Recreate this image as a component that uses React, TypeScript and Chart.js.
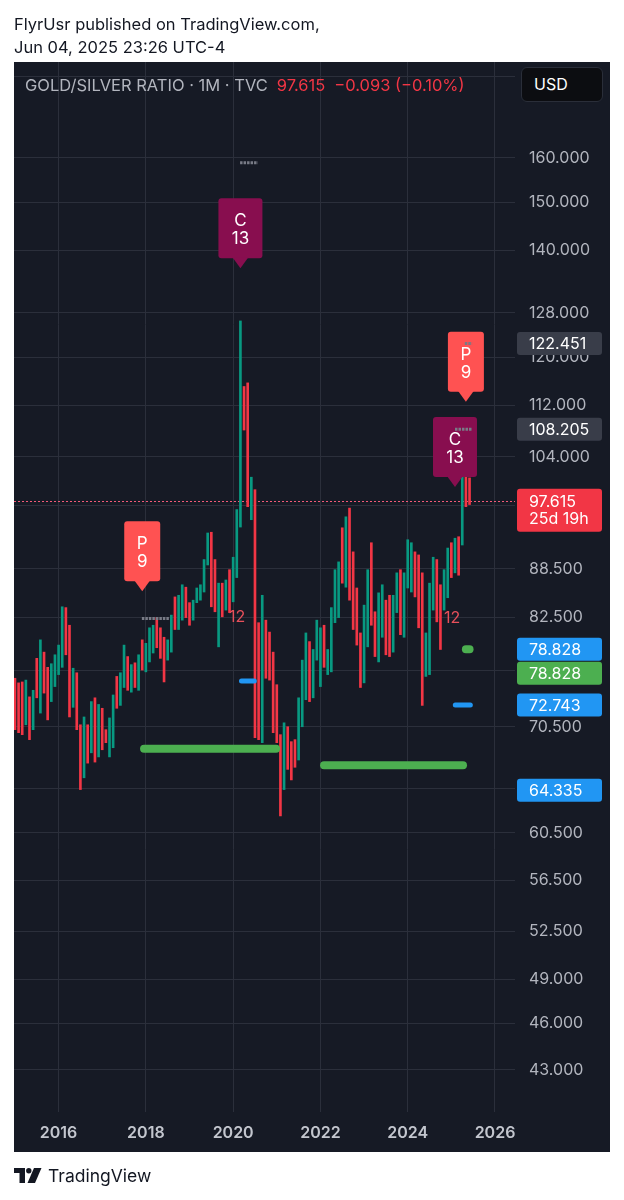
import React, { useEffect, useRef } from 'react';
import { Chart, registerables } from 'chart.js';

Chart.register(...registerables);

// One bar per month, first bar = Jan 2015
const FIRST_YEAR = 2015;
const YEAR_LABELS = [2016, 2018, 2020, 2022, 2024, 2026];
const PRICE_TICKS = [180, 160, 150, 140, 128, 120, 112, 104, 97, 88.5, 82.5, 76.5, 70.5, 64.5, 60.5, 56.5, 52.5, 49, 46, 43];

const HIGHS = [
  75.6, 75.1, 75.2, 75.4, 73.6, 74.3, 77.8, 79.9, 78.5, 76.8, 77.2, 78.2,
  79.3, 83.8, 83.7, 81.6, 76.7, 76.2, 70.7, 71.5, 70.7, 73.1, 73.5, 72.8,
  72.4, 70.2, 71.4, 73.8, 75.8, 76.2, 79.3, 78.0, 77.1, 77.3, 78.2, 79.9,
  79.5, 81.3, 81.6, 82.5, 81.3, 80.2, 79.9, 82.8, 85.0, 85.2, 86.5, 86.2,
  84.3, 84.6, 86.1, 86.5, 89.7, 93.2, 93.3, 89.7, 86.7, 86.7, 87.1, 88.4,
  90.0, 96.4, 126.5, 115.1, 115.7, 101.0, 99.2, 81.9, 85.2, 82.2, 80.8, 78.5,
  74.9, 69.7, 70.9, 70.5, 69.0, 69.2, 73.5, 77.6, 80.7, 79.7, 78.8, 82.2,
  81.3, 81.6, 78.8, 83.7, 88.4, 89.4, 93.9, 95.4, 96.6, 90.7, 86.1, 80.7,
  84.0, 88.4, 91.9, 83.2, 85.5, 86.5, 84.6, 85.2, 85.2, 88.0, 88.4, 88.0,
  92.3, 91.9, 90.7, 90.3, 88.0, 80.7, 86.7, 90.0, 89.7, 86.5, 88.4, 91.2,
  91.9, 92.5, 92.7, 107.0, 104.3, 100.9,
];

const LOWS = [
  70.2, 69.9, 69.7, 70.7, 69.2, 70.2, 73.5, 71.9, 74.0, 71.2, 73.1, 74.7,
  76.0, 76.8, 78.2, 71.5, 72.5, 70.2, 64.4, 65.5, 66.9, 67.9, 67.0, 67.5,
  68.2, 68.9, 67.5, 68.4, 72.4, 72.7, 74.6, 74.3, 74.1, 74.6, 74.3, 76.5,
  76.3, 77.4, 78.4, 79.0, 77.8, 75.2, 77.6, 78.5, 81.1, 81.1, 82.2, 82.5,
  81.6, 82.2, 84.3, 84.6, 85.6, 89.0, 83.8, 83.2, 79.1, 82.6, 83.4, 83.1,
  84.4, 87.4, 94.0, 108.1, 96.8, 95.0, 69.4, 69.2, 68.9, 75.6, 75.4, 69.9,
  68.9, 62.0, 64.4, 66.3, 65.3, 66.5, 67.2, 70.5, 73.3, 73.1, 73.5, 77.6,
  74.7, 76.8, 76.0, 76.3, 81.9, 82.5, 86.7, 86.2, 84.6, 81.1, 79.3, 74.6,
  75.1, 79.1, 81.6, 78.0, 77.4, 80.2, 78.2, 78.0, 78.5, 83.1, 80.5, 80.2,
  86.1, 85.6, 85.0, 81.3, 72.7, 75.8, 76.0, 83.4, 82.0, 78.8, 83.4, 84.9,
  87.4, 88.0, 87.7, 91.6, 96.8, 97.1,
];

// 1 = closed up (green), 0 = closed down (red)
const UP = [
  0, 0, 0, 1, 0, 1, 0, 1, 0, 0, 1, 1,
  1, 1, 0, 0, 1, 0, 0, 1, 0, 1, 0, 1,
  0, 0, 1, 1, 0, 1, 1, 0, 1, 0, 1, 0,
  1, 1, 1, 0, 0, 0, 1, 1, 0, 1, 1, 0,
  0, 1, 1, 1, 1, 1, 0, 0, 1, 0, 1, 0,
  1, 1, 1, 0, 0, 1, 0, 0, 1, 0, 0, 0,
  0, 0, 1, 0, 0, 0, 1, 1, 1, 0, 1, 1,
  1, 0, 1, 1, 1, 1, 0, 1, 0, 0, 0, 0,
  1, 1, 0, 0, 1, 1, 0, 0, 1, 1, 0, 1,
  1, 1, 0, 0, 0, 1, 1, 1, 0, 0, 1, 1,
  0, 1, 0, 1, 0, 0,
];

const LAST_PRICE = 97.615;

// Signal flags: bar index, price at the flag's tip
const SIGNAL_INDEX = [35, 62, 121, 124];
const SIGNAL_PRICE = [85.7, 136.5, 99.6, 112.6];
const SIGNAL_TEXT = [['P', '9'], ['C', '13'], ['C', '13'], ['P', '9']];

// count labels "12"
const COUNT_INDEX = [61.1, 120.2];
const COUNT_PRICE = [82.5, 82.4];

// level segments: [fromIndex, toIndex, price]
const GREEN_LEVELS = [[34.4, 72.9, 68.3], [83.9, 124.3, 66.7], [122.9, 126.1, 78.83]];
const BLUE_LEVELS = [[61.6, 66.5, 75.3], [120.4, 125.9, 72.74]];
const GREY_LEVELS = [[61.9, 66.8, 158.9], [34.9, 42.6, 82.4], [121.0, 125.7, 108.205], [123.7, 125.7, 122.451]];

// right-axis price tags
const TAG_VALUES = ['122.451', '108.205', '78.828', '78.828', '72.743', '64.335'];
const TAG_KIND = ['grey', 'grey', 'blue', 'green', 'blue', 'blue'];

const BG = '#161a25';
const GRID = '#2b2f3b';
const UP_COLOR = '#089981';
const DOWN_COLOR = '#f23645';
const FONT = "Inter, 'Noto Sans', sans-serif";

function roundRect(ctx: CanvasRenderingContext2D, x: number, y: number, w: number, h: number, r: number) {
  ctx.beginPath();
  ctx.moveTo(x + r, y);
  ctx.lineTo(x + w - r, y);
  ctx.quadraticCurveTo(x + w, y, x + w, y + r);
  ctx.lineTo(x + w, y + h - r);
  ctx.quadraticCurveTo(x + w, y + h, x + w - r, y + h);
  ctx.lineTo(x + r, y + h);
  ctx.quadraticCurveTo(x, y + h, x, y + h - r);
  ctx.lineTo(x, y + r);
  ctx.quadraticCurveTo(x, y, x + r, y);
  ctx.closePath();
}

const panelPlugin = {
  id: 'tvPanel',
  beforeDraw(chart: any) {
    const { ctx, chartArea } = chart;
    const xs = chart.scales.x;
    const ys = chart.scales.y;
    ctx.save();
    ctx.fillStyle = BG;
    ctx.fillRect(chartArea.left, chartArea.top, ys.right - chartArea.left, xs.bottom - chartArea.top);
    ctx.restore();
  },
  beforeDatasetsDraw(chart: any) {
    const { ctx, chartArea } = chart;
    const ys = chart.scales.y;
    const y = Math.round(ys.getPixelForValue(LAST_PRICE)) + 0.5;
    ctx.save();
    ctx.strokeStyle = '#f25a78';
    ctx.lineWidth = 1;
    ctx.setLineDash([2, 2]);
    ctx.beginPath();
    ctx.moveTo(chartArea.left, y);
    ctx.lineTo(chartArea.right, y);
    ctx.stroke();
    ctx.restore();
  },
  afterDatasetsDraw(chart: any) {
    const { ctx } = chart;
    const xs = chart.scales.x;
    const ys = chart.scales.y;
    ctx.save();
    // level lines
    const drawLevel = (seg: number[], color: string, width: number) => {
      const x1 = xs.getPixelForValue(seg[0]);
      const x2 = xs.getPixelForValue(seg[1]);
      const y = ys.getPixelForValue(seg[2]);
      ctx.strokeStyle = color;
      ctx.lineWidth = width;
      ctx.lineCap = 'round';
      ctx.setLineDash([]);
      ctx.beginPath();
      ctx.moveTo(x1 + width / 2, y);
      ctx.lineTo(x2 - width / 2, y);
      ctx.stroke();
    };
    GREEN_LEVELS.forEach((s) => drawLevel(s, '#4caf50', 8));
    BLUE_LEVELS.forEach((s) => drawLevel(s, '#2196f3', 5));

    // signal flags
    SIGNAL_INDEX.forEach((idx, k) => {
      const cx = xs.getPixelForValue(idx);
      const tip = ys.getPixelForValue(SIGNAL_PRICE[k]);
      const isC = SIGNAL_TEXT[k][0] === 'C';
      const w = isC ? 44 : 36;
      const h = 60;
      const bottom = tip - 10;
      ctx.fillStyle = isC ? '#880e4f' : '#ff5252';
      roundRect(ctx, cx - w / 2, bottom - h, w, h, 3);
      ctx.fill();
      ctx.beginPath();
      ctx.moveTo(cx - 8, bottom - 1);
      ctx.lineTo(cx + 8, bottom - 1);
      ctx.lineTo(cx, tip);
      ctx.closePath();
      ctx.fill();
      ctx.fillStyle = '#ffffff';
      ctx.font = `17px ${FONT}`;
      ctx.textAlign = 'center';
      ctx.textBaseline = 'middle';
      ctx.fillText(SIGNAL_TEXT[k][0], cx, bottom - h + 23);
      ctx.fillText(SIGNAL_TEXT[k][1], cx, bottom - h + 41);
    });

    // grey dotted levels
    GREY_LEVELS.forEach((s) => {
      const x1 = xs.getPixelForValue(s[0]);
      const x2 = xs.getPixelForValue(s[1]);
      const y = ys.getPixelForValue(s[2]);
      ctx.strokeStyle = '#787b86';
      ctx.lineWidth = 3;
      ctx.lineCap = 'butt';
      ctx.setLineDash([2.5, 1]);
      ctx.beginPath();
      ctx.moveTo(x1, y);
      ctx.lineTo(x2, y);
      ctx.stroke();
    });
    ctx.setLineDash([]);

    // count labels
    ctx.fillStyle = '#e8505b';
    ctx.font = `16px ${FONT}`;
    ctx.textAlign = 'center';
    ctx.textBaseline = 'middle';
    COUNT_INDEX.forEach((idx, k) => {
      ctx.fillText('12', xs.getPixelForValue(idx), ys.getPixelForValue(COUNT_PRICE[k]));
    });
    ctx.restore();
  },
  afterDraw(chart: any) {
    const { ctx } = chart;
    const ys = chart.scales.y;
    const left = ys.left + 2;
    const w = 85;
    ctx.save();
    ctx.font = `16px ${FONT}`;
    ctx.textAlign = 'left';
    ctx.textBaseline = 'middle';
    let prevBottom = -1e9;
    TAG_VALUES.forEach((txt, k) => {
      let cy = ys.getPixelForValue(parseFloat(txt));
      let top = cy - 11.5;
      if (top < prevBottom + 1) top = prevBottom + 1;
      cy = top + 11.5;
      const kind = TAG_KIND[k];
      ctx.fillStyle = kind === 'grey' ? '#393d49' : kind === 'blue' ? '#2196f3' : '#4caf50';
      roundRect(ctx, left, top, w, 23, 3);
      ctx.fill();
      ctx.fillStyle = '#ffffff';
      ctx.fillText(txt, left + 12, cy + 1);
      prevBottom = top + 23;
    });
    // last price tag with countdown
    const py = ys.getPixelForValue(LAST_PRICE);
    ctx.fillStyle = '#f23645';
    roundRect(ctx, left, py - 12, w, 43, 3);
    ctx.fill();
    ctx.fillStyle = '#ffffff';
    ctx.fillText(LAST_PRICE.toFixed(3), left + 12, py + 1);
    ctx.fillText('25d 19h', left + 12, py + 18);
    ctx.restore();
  },
};

export default function App() {
  const canvasRef = useRef<HTMLCanvasElement | null>(null);

  useEffect(() => {
    const canvas = canvasRef.current;
    if (!canvas) return;
    const chart = new Chart(canvas, {
      type: 'bar',
      data: {
        datasets: [
          {
            data: HIGHS.map((h, i) => ({ x: i, y: [LOWS[i], h] })) as any,
            backgroundColor: UP.map((u) => (u ? UP_COLOR : DOWN_COLOR)),
            borderWidth: 0,
            barThickness: 2,
            grouped: false,
          } as any,
        ],
      },
      options: {
        responsive: false,
        animation: false,
        devicePixelRatio: 1,
        layout: { padding: { left: 14, right: 14, top: 62, bottom: 48 } },
        plugins: { legend: { display: false }, tooltip: { enabled: false } },
        scales: {
          x: {
            type: 'linear',
            min: -0.26,
            max: 137.5,
            offset: false,
            border: { display: false },
            grid: { color: GRID, drawTicks: false, offset: false },
            afterBuildTicks: (s: any) => {
              s.ticks = YEAR_LABELS.map((y) => ({ value: (y - FIRST_YEAR) * 12 }));
            },
            afterFit: (s: any) => {
              s.height = 40;
            },
            ticks: {
              padding: 12,
              color: '#c3c6ce',
              font: { family: FONT, size: 16, weight: '600' as any },
              maxRotation: 0,
              autoSkip: false,
              callback: (v: any) => String(FIRST_YEAR + Number(v) / 12),
            },
          },
          y: {
            type: 'logarithmic',
            position: 'right',
            min: 40.47,
            max: 183.7,
            border: { display: false },
            grid: { color: GRID, drawTicks: false },
            afterBuildTicks: (s: any) => {
              s.ticks = PRICE_TICKS.map((v) => ({ value: v }));
            },
            afterFit: (s: any) => {
              s.width = 95;
            },
            ticks: {
              padding: 14,
              color: '#b2b5be',
              font: { family: FONT, size: 16 },
              autoSkip: false,
              callback: (v: any) => Number(v).toFixed(3),
            },
          },
        },
      } as any,
      plugins: [panelPlugin],
    });
    return () => chart.destroy();
  }, []);

  const base: React.CSSProperties = { position: 'absolute', fontFamily: FONT, whiteSpace: 'nowrap' };

  return (
    <div style={{ position: 'absolute', left: 0, top: 0, width: 624, height: 1200, background: '#ffffff', overflow: 'hidden' }}>
      <canvas ref={canvasRef} width={624} height={1200} style={{ position: 'absolute', left: 0, top: 0, width: 624, height: 1200 }} />
      <div style={{ ...base, left: 14, top: 13, fontSize: 16.5, color: '#131722', lineHeight: '23px' }}>
        FlyrUsr published on TradingView.com,
        <br />
        Jun 04, 2025 23:26 UTC-4
      </div>
      <div style={{ ...base, left: 25, top: 74, fontSize: 16.5, lineHeight: '23px', color: '#b2b5be' }}>
        GOLD/SILVER RATIO · 1M · TVC
        <span style={{ color: '#f23645', marginLeft: 9 }}>97.615</span>
        <span style={{ color: '#f23645', marginLeft: 9 }}>−0.093 (−0.10%)</span>
      </div>
      <div
        style={{
          ...base,
          left: 521,
          top: 67,
          width: 82,
          height: 35,
          boxSizing: 'border-box',
          background: '#0c0d11',
          border: '1px solid #2a2e39',
          borderRadius: 6,
          color: '#ffffff',
          fontSize: 16,
          lineHeight: '33px',
          paddingLeft: 12,
        }}
      >
        USD
      </div>
      <div style={{ ...base, left: 14, top: 1163, height: 24, display: 'flex', alignItems: 'center' }}>
        <svg width="28" height="15" viewBox="0 0 28 15" style={{ display: 'block' }}>
          <path d="M0 0 H11 V15 H5.5 V5 H0 Z" fill="#131722" />
          <circle cx="14.8" cy="2.7" r="2.7" fill="#131722" />
          <path d="M13.5 15 L20 0 H27.5 L21 15 Z" fill="#131722" />
        </svg>
        <span style={{ marginLeft: 6, fontSize: 17.5, color: '#131722' }}>TradingView</span>
      </div>
    </div>
  );
}
